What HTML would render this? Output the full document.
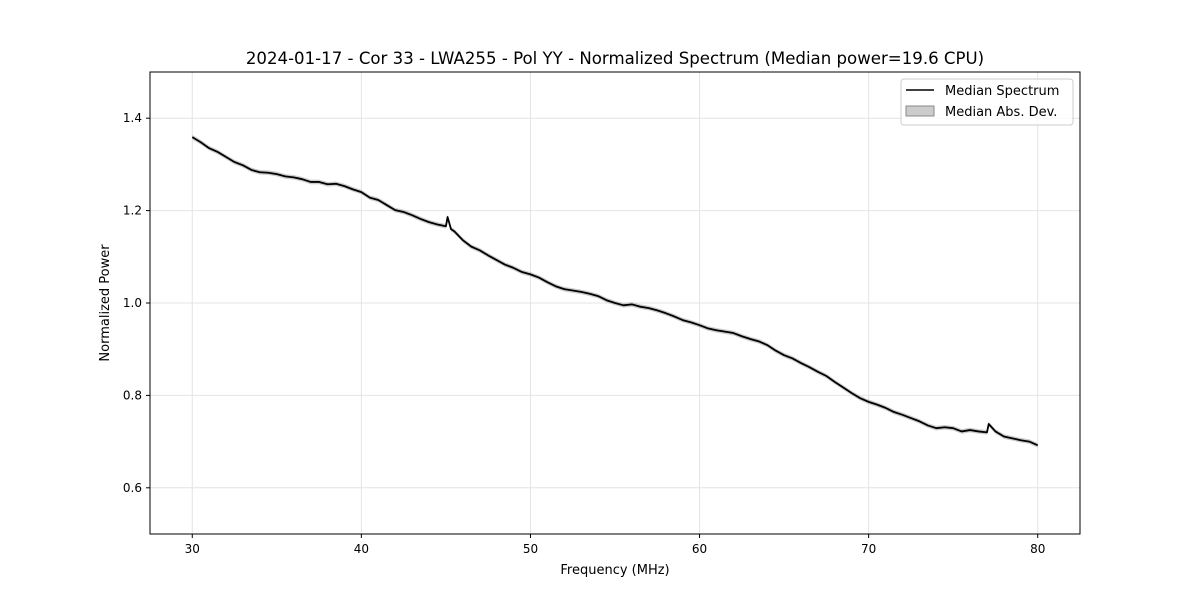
<!DOCTYPE html>
<html><head><meta charset="utf-8"><style>
body{margin:0;background:#fff;font-family:"Liberation Sans","DejaVu Sans",sans-serif;}
svg text{font-family:"DejaVu Sans","Liberation Sans",sans-serif;}
</style></head><body>
<svg id="chart" width="1200" height="600" xmlns="http://www.w3.org/2000/svg">
<rect width="1200" height="600" fill="#fff"/>
<text x="615" y="64" text-anchor="middle" font-size="16.6">2024-01-17 - Cor 33 - LWA255 - Pol YY - Normalized Spectrum (Median power=19.6 CPU)</text>
<g id="grid"></g><g id="series"></g>
<rect x="150" y="72" width="930" height="462" fill="none" stroke="#000" stroke-width="1"/>
<g id="ticks"></g>
<text x="615" y="574" text-anchor="middle" font-size="13">Frequency (MHz)</text>
<text transform="translate(109,303) rotate(-90)" text-anchor="middle" font-size="13">Normalized Power</text>
<g>
<rect x="901" y="79" width="172" height="46" fill="#fff" fill-opacity="0.8" stroke="#ccc" rx="3"/>
<line x1="906" y1="90" x2="934" y2="90" stroke="#000" stroke-width="1.5"/>
<text x="945" y="95" font-size="13">Median Spectrum</text>
<rect x="906" y="106" width="28" height="10" fill="#aaa" fill-opacity="0.6" stroke="#888"/>
<text x="945" y="116" font-size="13">Median Abs. Dev.</text>
</g>
</svg>
<script>
const freqs=[30,30.5,31,31.5,32,32.5,33,33.5,34,34.5,35,35.5,36,36.5,37,37.5,38,38.5,39,39.5,40,40.5,41,41.5,42,42.5,43,43.5,44,44.5,45,45.1,45.3,45.5,46,46.5,47,47.5,48,48.5,49,49.5,50,50.5,51,51.5,52,52.5,53,53.5,54,54.5,55,55.5,56,56.5,57,57.5,58,58.5,59,59.5,60,60.5,61,61.5,62,62.5,63,63.5,64,64.5,65,65.5,66,66.5,67,67.5,68,68.5,69,69.5,70,70.5,71,71.5,72,72.5,73,73.5,74,74.5,75,75.5,76,76.5,77,77.1,77.5,78,78.5,79,79.5,80];
const power=[1.359,1.348,1.335,1.327,1.316,1.305,1.298,1.288,1.283,1.282,1.279,1.274,1.272,1.268,1.262,1.262,1.257,1.258,1.253,1.246,1.240,1.228,1.223,1.212,1.201,1.197,1.190,1.182,1.175,1.170,1.166,1.186,1.160,1.155,1.136,1.122,1.114,1.103,1.093,1.083,1.076,1.067,1.062,1.055,1.045,1.036,1.030,1.027,1.024,1.020,1.015,1.006,1.000,0.995,0.997,0.992,0.989,0.984,0.978,0.971,0.963,0.958,0.952,0.945,0.941,0.938,0.935,0.928,0.922,0.917,0.909,0.897,0.887,0.880,0.870,0.861,0.851,0.842,0.829,0.817,0.805,0.794,0.786,0.780,0.773,0.764,0.758,0.751,0.744,0.735,0.729,0.731,0.729,0.722,0.725,0.722,0.720,0.738,0.722,0.711,0.707,0.703,0.700,0.692];
const madev=0.005;
const xTicks=[30,40,50,60,70,80];
const yTicks=[0.6,0.8,1.0,1.2,1.4];
const X=f=>150+(f-27.5)/55*930;
const Y=v=>534-(v-0.5)/1.0*462;
const NS="http://www.w3.org/2000/svg";
function mk(t,a,p){const e=document.createElementNS(NS,t);for(const k in a)e.setAttribute(k,a[k]);p.appendChild(e);return e;}
const grid=document.getElementById('grid'),ticks=document.getElementById('ticks'),ser=document.getElementById('series');
xTicks.forEach(t=>{
 const g=mk('line',{x1:X(t),x2:X(t),y1:72,y2:534,stroke:'#e4e4e4','stroke-width':1},grid);
 
 
 mk('line',{x1:X(t),x2:X(t),y1:534,y2:538,stroke:'#000'},ticks);
 const tx=mk('text',{x:X(t),y:553,'text-anchor':'middle','font-size':12},ticks);tx.textContent=t;
 
 
});
yTicks.forEach(t=>{
 const g=mk('line',{x1:150,x2:1080,y1:Y(t),y2:Y(t),stroke:'#e4e4e4','stroke-width':1},grid);
 
 
 mk('line',{x1:146,x2:150,y1:Y(t),y2:Y(t),stroke:'#000'},ticks);
 const tx=mk('text',{x:142,y:Y(t)+4,'text-anchor':'end','font-size':12},ticks);tx.textContent=t.toFixed(1);
 
 
});
let up=freqs.map((f,i)=>X(f)+','+Y(power[i]+madev)),dn=freqs.map((f,i)=>X(f)+','+Y(power[i]-madev)).reverse();
const band=mk('polygon',{points:up.concat(dn).join(' '),fill:'#aaa','fill-opacity':0.6},ser);


const ln=mk('polyline',{points:freqs.map((f,i)=>X(f)+','+Y(power[i])).join(' '),fill:'none',stroke:'#000','stroke-width':1.8,'stroke-linejoin':'round'},ser);


</script>
</body></html>
